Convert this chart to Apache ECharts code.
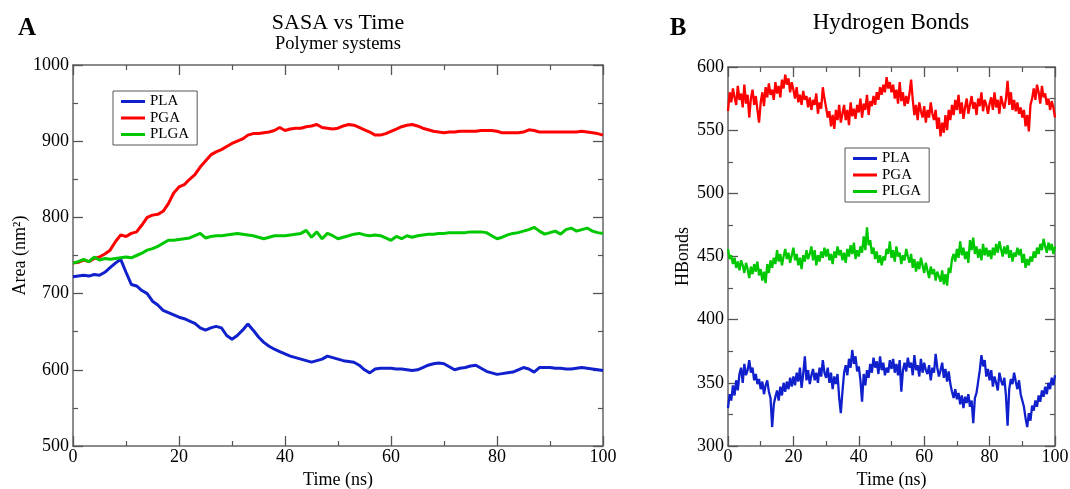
<!DOCTYPE html>
<html>
<head>
<meta charset="utf-8">
<script src="https://cdn.jsdelivr.net/npm/echarts@6/dist/echarts.min.js"></script>
<style>
html,body{margin:0;padding:0;background:#fff;}
#chart{width:1070px;height:489px;}
</style>
</head>
<body>
<div id="chart"></div>
<script>
// ---------- DATA ----------
const seriesNames = ['PLA', 'PGA', 'PLGA'];
const xTicksLabel = 'Time (ns)';

// Panel A: SASA (1 ns sampling, 0..100 ns)
const sasaStep = 1;
const sasaPLA = [722,723,724,723,725,724,728,734,740,745,728,712,710,704,700,690,685,678,675,672,
  669,667,664,661,655,652,655,657,655,645,640,645,652,660,652,643,636,631,627,624,
  621,618,616,614,612,610,612,614,618,616,614,612,611,610,606,600,596,601,602,602,
  602,601,601,600,599,600,603,606,608,609,608,604,600,602,603,605,606,602,598,596,
  594,595,596,597,600,603,601,597,603,603,603,602,602,601,601,602,603,602,601,600,599];
const sasaPGA = [740,741,744,742,746,748,752,757,768,777,775,779,781,790,800,803,804,808,818,832,
  840,843,850,856,866,874,882,886,889,893,897,900,903,908,910,910,911,912,914,918,
  914,916,917,917,919,920,922,918,917,916,917,920,922,921,918,915,912,908,908,910,
  913,916,919,921,922,920,917,915,913,912,911,912,912,913,913,913,913,914,914,914,
  913,911,911,911,911,912,915,914,912,912,912,912,912,912,912,912,913,912,911,910,908];
const sasaPLGA = [740,742,745,742,748,744,746,745,746,747,748,747,750,753,757,759,762,766,770,770,
  771,772,773,776,779,773,775,776,776,777,778,779,778,777,776,774,772,774,776,776,
  776,777,778,779,783,774,781,772,779,776,772,774,776,778,779,777,776,777,776,773,
  770,775,772,776,774,776,777,778,778,779,779,780,780,780,780,781,781,781,780,776,
  772,774,777,779,780,782,784,787,782,778,780,782,778,784,786,782,784,786,782,780,779];

// Panel B: Hydrogen bonds (0.5 ns sampling, 0..100 ns)
const hbStep = 0.5;
const hbPLA = [330,341,336,348,340,352,344,357,362,350, 365,356,360,368,358,362,352,357,349,353,
  345,351,341,348,352,343,338,315,333,339, 344,336,347,340,350,343,351,345,354,347,
  355,348,358,351,362,346,357,371,352,360, 349,356,361,352,358,350,362,355,368,358,
  354,362,350,358,345,355,349,357,338,326, 343,358,364,356,369,362,376,365,371,359,
  363,352,335,357,348,360,354,365,358,370, 362,367,357,371,360,366,356,362,358,368,
  361,369,358,365,356,368,343,360,366,359, 370,362,366,356,372,360,364,355,369,358,
  366,360,357,364,352,362,358,373,362,355, 360,366,354,361,351,359,349,343,338,345,
  337,342,333,340,330,339,334,341,331,336, 318,338,342,351,360,372,363,368,355,361,
  352,360,347,355,350,344,358,352,348,354, 340,316,345,353,349,358,351,345,352,341,
  336,331,322,315,326,320,332,328,336,331, 340,335,344,339,347,341,350,345,354,348, 356];
const hbPGA = [565,580,572,583,576,570,585,574,579,568, 586,571,578,560,575,582,570,577,566,556,
  572,580,569,584,576,587,578,582,574,588, 579,585,576,590,583,594,586,591,580,588,
  582,575,584,572,578,570,581,574,577,568, 576,566,574,570,579,563,572,567,584,575,
  568,560,565,553,562,551,566,558,570,556, 563,570,558,566,554,572,561,567,559,570,
  564,575,560,571,566,578,562,573,569,577, 570,580,574,584,578,586,580,592,583,588,
  580,586,575,582,571,588,573,580,569,577, 571,579,590,574,562,570,558,572,565,560,
  569,556,566,560,572,563,558,566,551,560, 545,556,548,562,550,566,558,570,562,574,
  566,578,563,572,559,568,575,563,570,577, 567,572,562,575,569,580,565,574,570,563,
  571,576,566,580,568,574,563,577,571,567, 575,589,570,580,566,574,565,572,563,568,
  560,566,553,562,549,570,575,583,574,586, 580,571,585,576,579,570,575,566,573,568, 560];
const hbPLGA = [456,448,451,444,449,441,446,439,447,443, 437,445,440,433,442,436,444,438,446,435,
  440,431,438,429,444,437,447,441,449,444, 455,446,452,443,450,456,448,453,445,451,
  457,447,452,443,449,440,451,446,455,448, 452,458,447,455,443,451,446,454,449,457,
  450,456,447,452,444,454,449,458,451,455, 447,453,445,456,450,459,452,461,448,455,
  450,458,453,466,455,473,459,463,452,457, 448,454,445,451,443,450,447,456,452,462,
  449,455,446,458,450,453,444,451,447,456, 450,445,452,441,448,438,446,440,449,443,
  437,445,439,433,442,436,440,431,438,434, 430,439,428,436,427,441,437,448,452,446,
  456,449,462,451,457,448,454,445,463,455, 465,452,458,449,456,447,460,451,457,450,
  455,448,457,451,460,453,462,456,450,458, 452,459,449,455,446,453,450,457,451,456,
  445,452,441,448,443,450,446,454,449,457, 452,460,455,464,458,453,461,455,460,452, 458];

const colors = {PLA: '#1020cc', PGA: '#ff0000', PLGA: '#00c800'};

// ---------- CHART ----------
const FONT = 'Liberation Serif';
function pairs(arr, step) { return arr.map((v, i) => [i * step, v]); }

function axisBase(extra) {
  return Object.assign({
    type: 'value',
    axisLine: {show: true, onZero: false, lineStyle: {color: '#666', width: 1.5}},
    axisTick: {show: true, inside: true, length: 10, lineStyle: {color: '#555', width: 1.3}},
    minorTick: {show: true, splitNumber: 2, length: 5, lineStyle: {color: '#555', width: 1.2}},
    splitLine: {show: false},
    axisLabel: {show: false}
  }, extra);
}
const labelStyle = {show: true, color: '#000', fontFamily: FONT, fontSize: 18,
  showMinLabel: true, showMaxLabel: true, formatter: v => String(v)};
const nameStyle = {color: '#000', fontFamily: FONT, fontSize: 18};

const xAxes = [
  axisBase({gridIndex: 0, position: 'bottom', min: 0, max: 100, interval: 20,
    axisLabel: Object.assign({}, labelStyle, {margin: 2}),
    name: xTicksLabel, nameLocation: 'middle', nameGap: 22, nameTextStyle: nameStyle}),
  axisBase({gridIndex: 0, position: 'top', min: 0, max: 100, interval: 20}),
  axisBase({gridIndex: 1, position: 'bottom', min: 0, max: 100, interval: 20,
    axisLabel: Object.assign({}, labelStyle, {margin: 2}),
    name: xTicksLabel, nameLocation: 'middle', nameGap: 22, nameTextStyle: nameStyle}),
  axisBase({gridIndex: 1, position: 'top', min: 0, max: 100, interval: 20})
];
const yAxes = [
  axisBase({gridIndex: 0, position: 'left', min: 500, max: 1000, interval: 100,
    axisLabel: Object.assign({}, labelStyle, {margin: 4}),
    name: 'Area (nm\u00B2)', nameLocation: 'middle', nameGap: 43, nameTextStyle: nameStyle}),
  axisBase({gridIndex: 0, position: 'right', min: 500, max: 1000, interval: 100}),
  axisBase({gridIndex: 1, position: 'left', min: 300, max: 600, interval: 50,
    axisLabel: Object.assign({}, labelStyle, {margin: 4}),
    name: 'HBonds', nameLocation: 'middle', nameGap: 36, nameTextStyle: nameStyle}),
  axisBase({gridIndex: 1, position: 'right', min: 300, max: 600, interval: 50})
];

function line(name, data, step, xi, yi, w) {
  return {name, type: 'line', xAxisIndex: xi, yAxisIndex: yi, data: pairs(data, step),
    symbol: 'none', showSymbol: false, smooth: false,
    lineStyle: {color: colors[name], width: w}, itemStyle: {color: colors[name]}};
}

const legendBase = {
  orient: 'vertical', data: seriesNames, icon: 'rect',
  backgroundColor: '#fff', borderColor: '#555', borderWidth: 1,
  padding: [3, 8, 3, 8], itemWidth: 24, itemHeight: 3, itemGap: 1.5, itemTextGap: 10,
  textStyle: {fontFamily: FONT, fontSize: 15, color: '#000'}, selectedMode: false
};

const option = {
  animation: false,
  backgroundColor: '#fff',
  grid: [
    {left: 73, right: 467, top: 65, bottom: 43, containLabel: false, outerBoundsMode: 'none'},
    {left: 728, right: 15, top: 67, bottom: 43, containLabel: false, outerBoundsMode: 'none'}
  ],
  xAxis: xAxes,
  yAxis: yAxes,
  legend: [
    Object.assign({left: 113, top: 91}, legendBase),
    Object.assign({left: 845, top: 148}, legendBase)
  ],
  graphic: [
    {type: 'text', x: 338, y: 23, style: {text: 'SASA vs Time', fontFamily: FONT, fontSize: 22, fill: '#000', textAlign: 'center', textVerticalAlign: 'middle'}},
    {type: 'text', x: 338, y: 44, style: {text: 'Polymer systems', fontFamily: FONT, fontSize: 18.5, fill: '#000', textAlign: 'center', textVerticalAlign: 'middle'}},
    {type: 'text', x: 891, y: 23, style: {text: 'Hydrogen Bonds', fontFamily: FONT, fontSize: 23, fill: '#000', textAlign: 'center', textVerticalAlign: 'middle'}},
    {type: 'text', x: 27, y: 29, style: {text: 'A', fontFamily: FONT, fontSize: 25, fontWeight: 'bold', fill: '#000', textAlign: 'center', textVerticalAlign: 'middle'}},
    {type: 'text', x: 678, y: 29, style: {text: 'B', fontFamily: FONT, fontSize: 25, fontWeight: 'bold', fill: '#000', textAlign: 'center', textVerticalAlign: 'middle'}}
  ],
  series: [
    line('PLA', sasaPLA, sasaStep, 0, 0, 3),
    line('PGA', sasaPGA, sasaStep, 0, 0, 3),
    line('PLGA', sasaPLGA, sasaStep, 0, 0, 3),
    line('PLA', hbPLA, hbStep, 2, 2, 2.3),
    line('PGA', hbPGA, hbStep, 2, 2, 2.3),
    line('PLGA', hbPLGA, hbStep, 2, 2, 2.3)
  ]
};

const chart = echarts.init(document.getElementById('chart'), null, {renderer: 'canvas'});
chart.setOption(option);
</script>
</body>
</html>
